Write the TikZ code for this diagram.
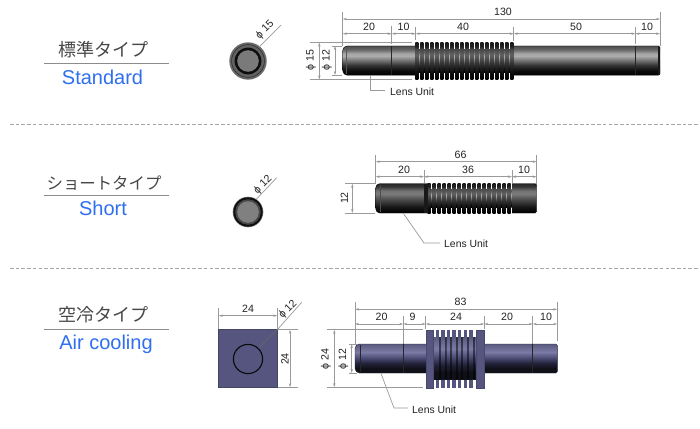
\documentclass[tikz,border=0pt]{standalone}
\usepackage{fontspec}
\setmainfont{Liberation Sans}
\newfontfamily\cjkf{Noto Sans CJK JP}
\usetikzlibrary{arrows.meta}
\definecolor{dimc}{HTML}{9A9A9A}
\definecolor{txtc}{HTML}{222222}
\definecolor{blueT}{HTML}{2F6FF0}
\definecolor{purp}{HTML}{55557F}
\definecolor{pa}{HTML}{101018}
\definecolor{pb}{HTML}{23233A}
\definecolor{pc}{HTML}{50507A}
\definecolor{pd}{HTML}{7A7AA5}
\definecolor{pe}{HTML}{5A5A80}
\pgfdeclareverticalshading{graybody}{100bp}{color(0bp)=(black!100); color(25bp)=(black!100); color(33bp)=(black!95); color(42bp)=(black!80); color(52bp)=(black!50); color(58bp)=(black!32); color(62bp)=(black!35); color(69bp)=(black!60); color(75bp)=(black!70); color(100bp)=(black!70)}
\pgfdeclareverticalshading{darkbody}{100bp}{color(0bp)=(black!100); color(25bp)=(black!100); color(35bp)=(black!92); color(47bp)=(black!72); color(58bp)=(black!52); color(63bp)=(black!55); color(70bp)=(black!78); color(75bp)=(black!85); color(100bp)=(black!85)}
\pgfdeclareverticalshading{toothbody}{100bp}{color(0bp)=(black!100); color(25bp)=(black!100); color(35bp)=(black!95); color(47bp)=(black!80); color(58bp)=(black!62); color(66bp)=(black!72); color(70bp)=(black!88); color(75bp)=(black!90); color(100bp)=(black!90)}
\pgfdeclareverticalshading{purpbody}{100bp}{color(0bp)=(pa); color(25bp)=(pa); color(33bp)=(pa); color(42bp)=(pb); color(52bp)=(pc); color(61bp)=(pd); color(75bp)=(pe); color(100bp)=(pe)}
\tikzset{
  dimline/.style={draw=dimc,line width=0.7pt},
  dimarrow/.style={dimline,{Stealth[length=4pt,width=2.4pt]}-{Stealth[length=4pt,width=2.4pt]}},
  dimtext/.style={font=\fontsize{10.6}{12}\selectfont,text=txtc,inner sep=0pt},
  lenstext/.style={font=\fontsize{10.4}{12}\selectfont,text=txtc,inner sep=0pt,anchor=west},
  jptitle/.style={font=\cjkf\fontsize{18}{20}\selectfont,text=black!72,inner sep=0pt},
  entitle/.style={font=\fontsize{20}{22}\selectfont,text=blueT,inner sep=0pt},
  rulegray/.style={draw=black!45,line width=0.8pt},
  sepline/.style={draw=black!35,line width=0.8pt,dash pattern=on 3.6pt off 2.1pt},
  seam/.style={draw=black!85,line width=0.7pt},
}
\begin{document}
\begin{tikzpicture}[x=1pt,y=-1pt]
\useasboundingbox (0,0) rectangle (700,428);
\fill[white] (0,0) rectangle (700,428);
% titles
\node[jptitle] (t1) at (103,49.5) {標準タイプ};
\coordinate (r1a) at (44,63.5); \coordinate (r1b) at (169,63.5);
\draw[rulegray] (r1a) -- (r1b);
\node[entitle] (e1) at (102.5,77) {Standard};
\node[jptitle,font=\cjkf\fontsize{16.4}{20}\selectfont] (t2) at (104,183) {ショートタイプ};
\coordinate (r2a) at (44,195); \coordinate (r2b) at (169,195);
\draw[rulegray] (r2a) -- (r2b);
\node[entitle] (e2) at (103,208) {Short};
\node[jptitle] (t3) at (103,315) {空冷タイプ};
\coordinate (r3a) at (44,329); \coordinate (r3b) at (169,329);
\draw[rulegray] (r3a) -- (r3b);
\node[entitle] (e3) at (106,344) {Air cooling};
% separators
\draw[sepline] (10,124.3) -- (700,124.3);
\draw[sepline] (10,268.3) -- (700,268.3);

% ---------- Standard: end view
\fill[black!58] (248,61) circle (18.7);
\draw[black!80,line width=0.8pt] (248,61) circle (16.4);
\fill[black!62] (248,61) circle (15.6);
\fill[black!95] (248,61) circle (13.4);
\fill[black!52] (248,61) circle (10.8);
\draw[dimline] (259,47) -- (281,25);
\node[dimtext,rotate=45] (a1) at (265,30) {ϕ 15};
% ---------- Standard: side
\draw[dimline] (342.7,12) -- (342.7,46);
\draw[dimline] (660,12) -- (660,46);
\draw[dimline] (391.7,26) -- (391.7,44);
\draw[dimline] (415.7,27) -- (415.7,40);
\draw[dimline] (513.7,27) -- (513.7,41);
\draw[dimline] (635.4,27) -- (635.4,44);
\draw[dimline] (310,42.5) -- (412,42.5);
\draw[dimline] (310,79.5) -- (412,79.5);
\draw[dimline] (332,46) -- (342,46);
\draw[dimline] (332,75) -- (342,75);
\draw[shading=graybody,rounded corners=1.5pt] (345.5,46) -- (660,46) -- (660,75.2) -- (345.5,75.2) -- (342.7,72) -- (342.7,49) -- cycle;
\fill[black!90] (658,47) rectangle (660.3,74.5);
\draw[seam,black!65] (346,47) -- (346,74);
\draw[seam] (391.7,46) -- (391.7,75);
\draw[seam] (635.4,46) -- (635.4,75);
% bellows
\fill[white] (415.3,42) rectangle (514,80);
\shade[shading=graybody] (415.3,49.5) rectangle (514,72.5);
\foreach \i in {0,...,19}{
  \shade[shading=toothbody] ({415.3+5*\i},42.5) rectangle ({418.3+5*\i},79.5);
}
\draw[dimarrow] (342.7,19) -- (660,19);
\node[dimtext] (d130) at (503,12) {130};
\draw[dimarrow] (342.7,33.7) -- (391.7,33.7);
\draw[dimarrow] (391.7,33.7) -- (415.7,33.7);
\draw[dimarrow] (415.7,33.7) -- (513.7,33.7);
\draw[dimarrow] (513.7,33.7) -- (635.4,33.7);
\draw[dimarrow] (635.4,33.7) -- (660,33.7);
\node[dimtext] (d20a) at (369,27) {20};
\node[dimtext] (d10a) at (403.5,27) {10};
\node[dimtext] (d40a) at (463,27) {40};
\node[dimtext] (d50a) at (576,27) {50};
\node[dimtext] (d10b) at (647,27) {10};
\draw[dimarrow] (319.3,42.5) -- (319.3,79.5);
\draw[dimarrow] (335,46) -- (335,75);
\node[dimtext,rotate=90] (p15) at (311,60) {ϕ 15};
\node[dimtext,rotate=90] (p12) at (327,60) {ϕ 12};
\node[lenstext] (lu1) at (390,91.8) {Lens Unit};
\coordinate (lu1a) at (370,76);
\draw[dimline] (lu1a) -- (370,90) -- (385,90);

% ---------- Short: end view
\fill[black!55] (248,212) circle (15.3);
\fill[black!95] (248,212) circle (14.6);
\fill[black!72] (248,212) circle (12.8);
\fill[black!50] (248,212) circle (10.8);
\draw[dimline] (256.5,199) -- (276.7,177.7);
\node[dimtext,rotate=45] (a2) at (263,185) {ϕ 12};
% ---------- Short: side
\draw[dimline] (375.7,155) -- (375.7,184);
\draw[dimline] (536.7,155) -- (536.7,184);
\draw[dimline] (424,170) -- (424,183);
\draw[dimline] (512,170) -- (512,183);
\draw[dimline] (345,183.7) -- (375,183.7);
\draw[dimline] (345,213) -- (375,213);
\draw[shading=darkbody,rounded corners=1.5pt] (378,183.7) -- (536.7,183.7) -- (536.7,213) -- (378,213) -- (375.7,210) -- (375.7,186.5) -- cycle;
\draw[seam,black!70] (380.5,185) -- (380.5,212);
\fill[white] (427.5,182.5) rectangle (511.5,214.2);
\shade[shading=graybody] (427.5,189.5) rectangle (511.5,207.5);
\foreach \i in {0,...,16}{
  \shade[shading=toothbody] ({427.5+5*\i},183) rectangle ({430.5+5*\i},213.8);
}
\fill[black!90] (424,183.7) rectangle (427.5,213);
\draw[dimarrow] (375.7,161.7) -- (536.7,161.7);
\draw[dimarrow] (375.7,176.7) -- (424,176.7);
\draw[dimarrow] (424,176.7) -- (512,176.7);
\draw[dimarrow] (512,176.7) -- (536.7,176.7);
\node[dimtext] (s66) at (460.5,154.5) {66};
\node[dimtext] (s20) at (404,170) {20};
\node[dimtext] (s36) at (468,170) {36};
\node[dimtext] (s10) at (524,170) {10};
\draw[dimarrow] (352.3,183.7) -- (352.3,213);
\node[dimtext,rotate=90] (s12) at (344.5,198) {12};
\node[lenstext] (lu2) at (444,244.2) {Lens Unit};
\coordinate (lu2a) at (403.3,213.3);
\draw[dimline] (lu2a) -- (424,243) -- (440,243);

% ---------- Air: front
\draw[dimline] (218.7,308) -- (218.7,329);
\draw[dimline] (277.3,308) -- (277.3,329);
\draw[dimline] (277.3,329.7) -- (298,329.7);
\draw[dimline] (277.3,387.3) -- (298,387.3);
\fill[purp,draw=purp!80!black,line width=0.5pt] (218.7,329.7) rectangle (277.3,387.3);
\draw[draw=black!90!purp,line width=1.1pt] (248,359) circle (14.6);
\draw[dimline,black!60] (258.5,348) -- (277.3,329.7);
\draw[dimline] (277.3,329.7) -- (301.7,302.3);
\draw[dimarrow] (218.7,315.7) -- (277.3,315.7);
\draw[dimarrow] (290,329.7) -- (290,387.3);
\node[dimtext] (f24a) at (248,309) {24};
\node[dimtext,rotate=90] (f24b) at (285,359) {24};
\node[dimtext,rotate=45] (f12) at (288,309.5) {ϕ 12};
% ---------- Air: side
\draw[dimline] (355,302) -- (355,344);
\draw[dimline] (557.3,302) -- (557.3,341);
\draw[dimline] (403.3,316) -- (403.3,344);
\draw[dimline] (425.7,316) -- (425.7,329);
\draw[dimline] (484.3,316) -- (484.3,329);
\draw[dimline] (532.7,316) -- (532.7,344);
\draw[dimline] (327,329.7) -- (423,329.7);
\draw[dimline] (327,387.3) -- (423,387.3);
\draw[dimline] (349,344) -- (357,344);
\draw[dimline] (349,373) -- (357,373);
\draw[shading=purpbody,draw=pb,rounded corners=1.5pt] (358,344) -- (557.3,344) -- (557.3,373) -- (358,373) -- (355,370) -- (355,347) -- cycle;
\draw[seam] (360,345) -- (360,372);
\draw[seam] (403.3,344) -- (403.3,373);
\draw[seam] (532.7,344) -- (532.7,373);
\fill[white] (432.7,329) rectangle (476,388);
\shade[shading=purpbody] (432.7,337) rectangle (476,379);
\foreach \i in {0,...,6}{
  \fill[purp] ({435.6+5.6*\i},329.7) rectangle ({439+5.6*\i},387.7);
  \shade[shading=purpbody] ({435.6+5.6*\i},337) rectangle ({439+5.6*\i},379);
  \fill[black,opacity=0.5] ({439+5.6*\i},337) rectangle ({441.2+5.6*\i},379);
}
\fill[purp,draw=purp!85!black,line width=0.4pt] (425.7,329.7) rectangle (432.7,387.7);
\fill[purp,draw=purp!85!black,line width=0.4pt] (476,329.7) rectangle (484.3,387.7);
\draw[dimarrow] (355,309.3) -- (557.3,309.3);
\draw[dimarrow] (355,324) -- (403.3,324);
\draw[dimarrow] (403.3,324) -- (425.7,324);
\draw[dimarrow] (425.7,324) -- (484.3,324);
\draw[dimarrow] (484.3,324) -- (532.7,324);
\draw[dimarrow] (532.7,324) -- (557.3,324);
\node[dimtext] (a83) at (460.5,302) {83};
\node[dimtext] (a20) at (381.5,316.5) {20};
\node[dimtext] (a9) at (412.5,316.5) {9};
\node[dimtext] (a24) at (456,316.5) {24};
\node[dimtext] (a20b) at (507,316.5) {20};
\node[dimtext] (a10) at (546,316.5) {10};
\draw[dimarrow] (334.3,329.7) -- (334.3,387.3);
\draw[dimarrow] (351.7,344) -- (351.7,373);
\node[dimtext,rotate=90] (a24p) at (326,359) {ϕ 24};
\node[dimtext,rotate=90] (a12p) at (343.5,359) {ϕ 12};
\node[lenstext] (lu3) at (412,409.3) {Lens Unit};
\coordinate (lu3a) at (381,373.5);
\draw[dimline] (lu3a) -- (394,408) -- (408,408);
\end{tikzpicture}
\end{document}
